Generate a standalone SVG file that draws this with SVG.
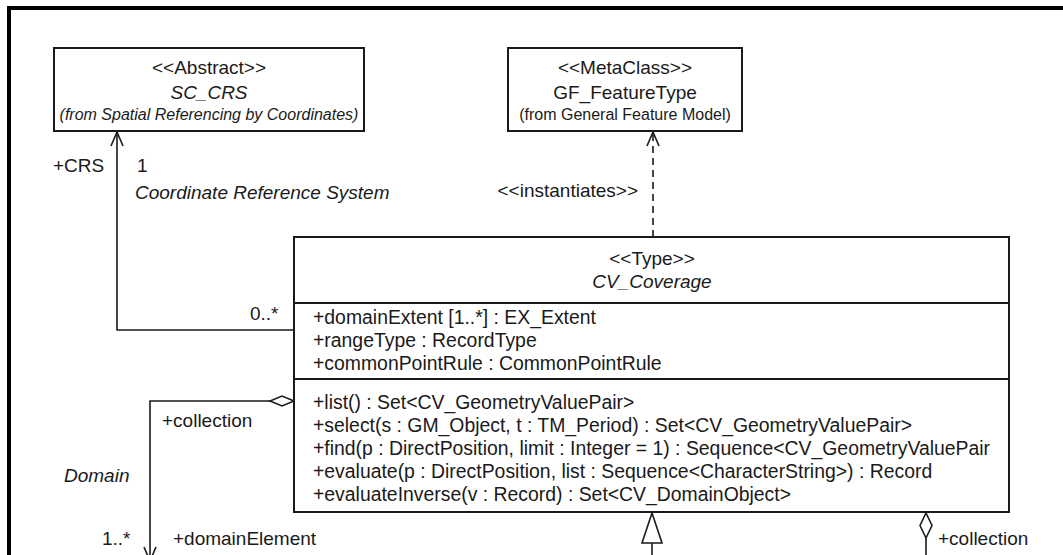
<svg xmlns="http://www.w3.org/2000/svg" width="1063" height="555" viewBox="0 0 1063 555">
<style>
text{font-family:"Liberation Sans",Arial,sans-serif;font-size:19px;fill:#1a1a1a}
.i{font-style:italic}
.s{font-size:16px}
.c{text-anchor:middle}
.m{font-size:19.4px}
.box{fill:#fff;stroke:#1a1a1a;stroke-width:2}
.ln{fill:none;stroke:#1a1a1a;stroke-width:1.6}
</style>
<rect width="1063" height="555" fill="#fff"/>
<path d="M9,555 V8 H1063" fill="none" stroke="#000" stroke-width="4"/>
<g id="connectors">
<path class="ln" d="M117,132 V330 H294"/>
<path class="ln" d="M111,146 L117,132 L123,146"/>
<path class="ln" d="M653,134 V237" stroke-dasharray="7,5"/>
<path class="ln" d="M647,146 L653,132 L659,146"/>
<path class="ln" d="M270,401 H150 V555"/>
<polygon class="ln" fill="#fff" points="294,401 282,396 270,401 282,406"/>
<path class="ln" d="M144,547 L150,561 L156,547"/>
<path class="ln" d="M652,543 V555"/>
<polygon class="ln" points="652,513 662,543 642,543"/>
<path class="ln" d="M926,538 V555"/>
<polygon class="ln" points="926,513 932,525.5 926,538 920,525.5"/>
<text x="53" y="172">+CRS</text>
<text x="137" y="172">1</text>
<text class="i" x="135" y="199">Coordinate Reference System</text>
<text x="638" y="197" text-anchor="end">&lt;&lt;instantiates&gt;&gt;</text>
<text x="250" y="320">0..*</text>
<text x="162" y="427">+collection</text>
<text class="i" x="64" y="482">Domain</text>
<text x="102" y="545">1..*</text>
<text x="173" y="545">+domainElement</text>
<text x="938" y="545">+collection</text>
</g>
<g id="SC_CRS">
<rect class="box" x="54" y="48" width="310" height="83"/>
<text class="c" x="209" y="74">&lt;&lt;Abstract&gt;&gt;</text>
<text class="c i" x="209" y="99">SC_CRS</text>
<text class="c i s" x="209" y="120">(from Spatial Referencing by Coordinates)</text>
</g>
<g id="GF_FeatureType">
<rect class="box" x="508" y="48" width="234" height="83"/>
<text class="c" x="625" y="74">&lt;&lt;MetaClass&gt;&gt;</text>
<text class="c" x="625" y="99">GF_FeatureType</text>
<text class="c s" x="625" y="120">(from General Feature Model)</text>
</g>
<g id="CV_Coverage">
<rect class="box" x="294" y="237" width="715" height="275"/>
<line class="box" x1="294" y1="303" x2="1009" y2="303"/>
<line class="box" x1="294" y1="379" x2="1009" y2="379"/>
<text class="c" x="652" y="265">&lt;&lt;Type&gt;&gt;</text>
<text class="c i" x="652" y="288">CV_Coverage</text>
<text class="m" x="313" y="324">+domainExtent [1..*] : EX_Extent</text>
<text class="m" x="313" y="347">+rangeType : RecordType</text>
<text class="m" x="313" y="370">+commonPointRule : CommonPointRule</text>
<text class="m" x="313" y="409">+list() : Set&lt;CV_GeometryValuePair&gt;</text>
<text class="m" x="313" y="432">+select(s : GM_Object, t : TM_Period) : Set&lt;CV_GeometryValuePair&gt;</text>
<text class="m" x="313" y="455">+find(p : DirectPosition, limit : Integer = 1) : Sequence&lt;CV_GeometryValuePair</text>
<text class="m" x="313" y="478">+evaluate(p : DirectPosition, list : Sequence&lt;CharacterString&gt;) : Record</text>
<text class="m" x="313" y="501">+evaluateInverse(v : Record) : Set&lt;CV_DomainObject&gt;</text>
</g>
</svg>
